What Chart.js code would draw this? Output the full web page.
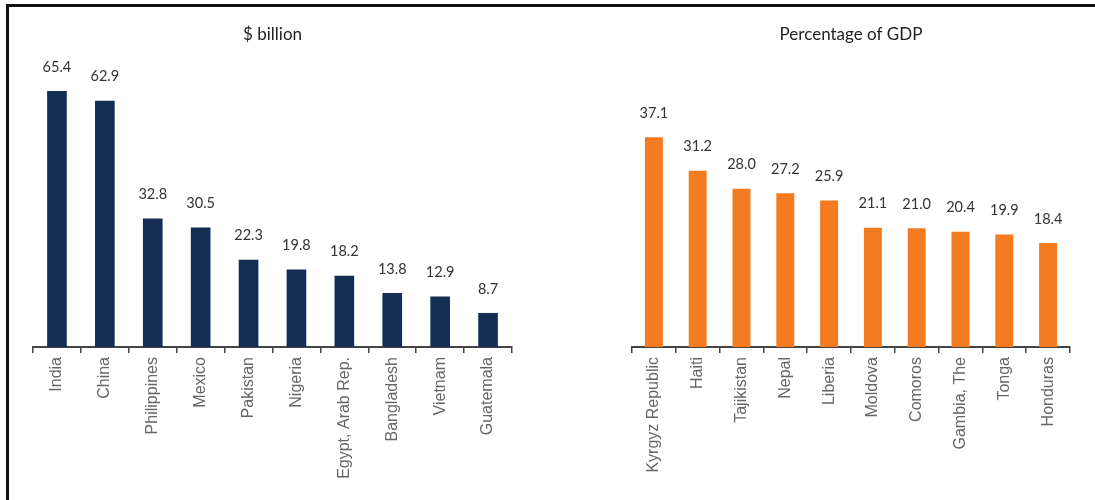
<!DOCTYPE html>
<html>
<head>
<meta charset="utf-8">
<script src="https://cdn.jsdelivr.net/npm/chart.js@4"></script>
<style>
  html, body { margin: 0; padding: 0; background: #fff; }
  #wrap { position: relative; width: 1095px; height: 500px; overflow: hidden; }
  #frame { position: absolute; left: 6px; top: 4px; width: 1100px; height: 510px;
           border-top: 3px solid #111; border-left: 3px solid #111; }
  .box { position: absolute; top: 0; height: 500px; }
  #left { left: 0; width: 550px; }
  #right { left: 550px; width: 545px; }
</style>
</head>
<body>
<div id="wrap">
  <div id="frame"></div>
  <div class="box" id="left"><canvas id="c1"></canvas></div>
  <div class="box" id="right"><canvas id="c2"></canvas></div>
</div>
<script>
const amountCountries = ["India", "China", "Philippines", "Mexico", "Pakistan", "Nigeria",
  "Egypt, Arab Rep.", "Bangladesh", "Vietnam", "Guatemala"];
const amountValues = [65.4, 62.9, 32.8, 30.5, 22.3, 19.8, 18.2, 13.8, 12.9, 8.7];

const shareCountries = ["Kyrgyz Republic", "Haiti", "Tajikistan", "Nepal", "Liberia", "Moldova",
  "Comoros", "Gambia, The", "Tonga", "Honduras"];
const shareValues = [37.1, 31.2, 28.0, 27.2, 25.9, 21.1, 21.0, 20.4, 19.9, 18.4];

// value labels above each bar
const barLabels = {
    id: "barLabels",
    afterDatasetsDraw(chart) {
        const ctx = chart.ctx;
        const meta = chart.getDatasetMeta(0);
        const values = chart.data.datasets[0].data;
        ctx.save();
        ctx.font = "14.5px Lato";
        ctx.fillStyle = "#333";
        ctx.textAlign = "center";
        ctx.textBaseline = "middle";
        meta.data.forEach((bar, i) => {
            ctx.fillText(values[i].toFixed(1), bar.x, bar.y - 24);
        });
        ctx.restore();
    },
};

function makeChart(canvasId, title, labels, values, color, yMax, pad, titleGap) {
    return new Chart(document.getElementById(canvasId), {
        type: "bar",
        data: {
            labels,
            datasets: [{
                data: values,
                backgroundColor: color,
                borderWidth: 0,
                categoryPercentage: 1,
                barPercentage: 0.41,
            }],
        },
        options: {
            responsive: true,
            maintainAspectRatio: false,
            animation: false,
            layout: { padding: pad },
            plugins: {
                legend: { display: false },
                tooltip: { enabled: false },
                title: {
                    display: true,
                    text: title,
                    color: "#222",
                    font: { family: "Lato", size: 17, weight: "normal", lineHeight: 1.2 },
                    padding: { top: 24, bottom: titleGap },
                },
            },
            scales: {
                x: {
                    grid: { display: true, drawOnChartArea: false, drawTicks: true, tickLength: 6,
                            color: "#444", lineWidth: 1.5 },
                    border: { display: true, color: "#444", width: 2 },
                    ticks: {
                        minRotation: 90, maxRotation: 90, autoSkip: false, padding: 4,
                        color: "#666",
                        font: { family: "Liberation Sans", size: 16 },
                    },
                    afterFit(scale) { scale.height = 153; },
                },
                y: { display: false, min: 0, max: yMax },
            },
        },
        plugins: [barLabels],
    });
}

makeChart("c1", "$ billion", amountCountries, amountValues, "#142d52", 70,
    { left: 33, right: 38, top: 0, bottom: 0 }, 28.5);
makeChart("c2", "Percentage of GDP", shareCountries, shareValues, "#f47b20", 40,
    { left: 82, right: 25, top: 0, bottom: 0 }, 76.5);
</script>
</body>
</html>
